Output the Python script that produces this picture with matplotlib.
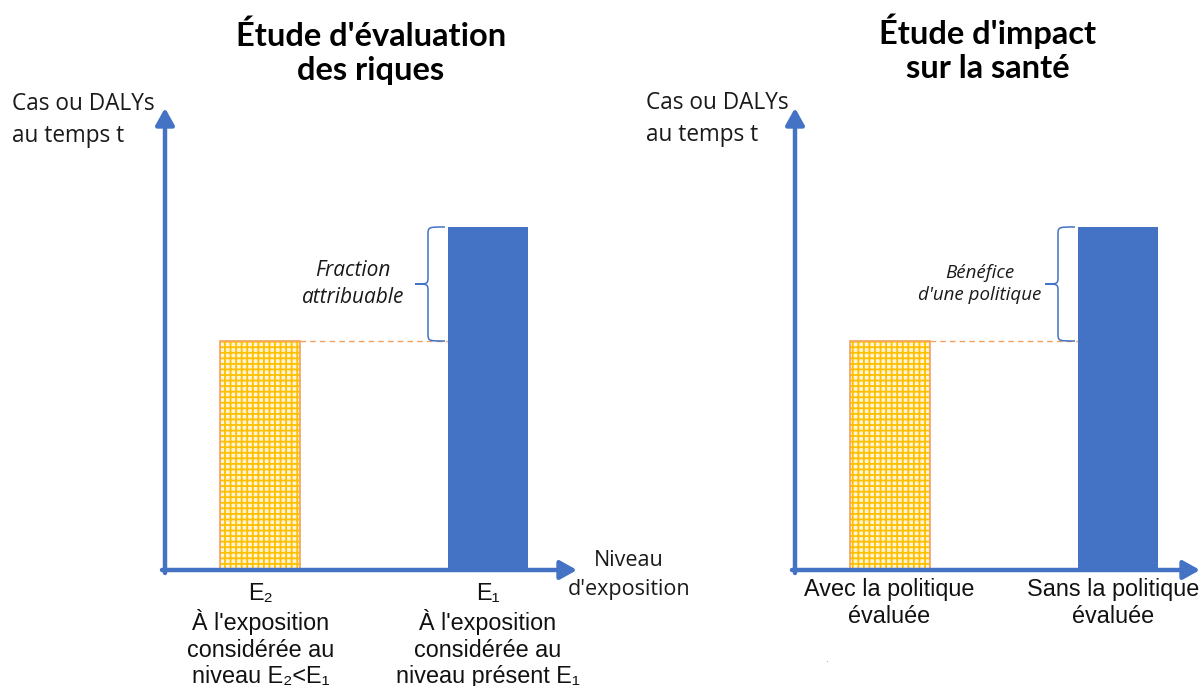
import matplotlib
matplotlib.use('Agg')
import matplotlib.pyplot as plt
from matplotlib.path import Path
from matplotlib.patches import PathPatch

# Data (arbitrary units)
bar_levels = [2.29, 3.43]          # orange (E2 / with policy), blue (E1 / without policy)
titles = ["Étude d'évaluation\ndes riques", "Étude d'impact\nsur la santé"]
brace_labels = ["Fraction\nattribuable", "Bénéfice\nd'une politique"]
left_ticks = ["E\u2082\nÀ l'exposition\nconsidérée au\nniveau E\u2082<E\u2081",
              "E\u2081\nÀ l'exposition\nconsidérée au\nniveau présent E\u2081"]
right_ticks = ["Avec la politique\névaluée", "Sans la politique\névaluée"]
y_label = "Cas ou DALYs\nau temps t"
x_label = "Niveau\nd'exposition"

BLUE = '#4472C4'
ORANGE = '#F4A15E'
YELLOW = '#FFC000'
W, H = 1201, 686

plt.rcParams['hatch.linewidth'] = 1.3
fig = plt.figure(figsize=(W / 100, H / 100), dpi=100)


def px(x, y):
    return x / W, 1 - y / H


def panel(x0, xtip, brace_text, brace_size, brace_x):
    # axes: origin at pixel (x0, 570), 100 px per unit
    ax = fig.add_axes([x0 / W, (H - 570) / H, (xtip - x0) / W, 460 / H])
    ax.set_xlim(0, (xtip - x0) / 100)
    ax.set_ylim(0, 4.6)
    ax.axis('off')
    pos = [0.95, 3.225]
    ax.bar(pos[0], bar_levels[0], width=0.8, color='#FFF4D6', hatch='+++',
           edgecolor=YELLOW, linewidth=0, zorder=2)
    ax.bar(pos[0], bar_levels[0], width=0.8, fill=False, edgecolor=ORANGE,
           linewidth=1.2, zorder=3)
    ax.bar(pos[1], bar_levels[1], width=0.8, color=BLUE, linewidth=0, zorder=2)
    # dashed connector
    ax.plot([pos[0] + 0.4, pos[1] - 0.4], [bar_levels[0]] * 2, color=ORANGE,
            lw=1, dashes=(4, 3), zorder=1)
    # brace
    yt, yb = bar_levels[1], bar_levels[0]
    ym = (yt + yb) / 2
    xs, xe, xtp, r = 2.63, 2.80, 2.50, 0.08
    verts = [(xe, yt), (xs, yt), (xs, yt), (xs, yt - r),
             (xs, ym + r),
             (xs, ym), (xs, ym), (xtp, ym),
             (xs, ym), (xs, ym), (xs, ym - r),
             (xs, yb + r),
             (xs, yb), (xs, yb), (xe, yb)]
    codes = [Path.MOVETO, Path.CURVE4, Path.CURVE4, Path.CURVE4,
             Path.LINETO,
             Path.CURVE4, Path.CURVE4, Path.CURVE4,
             Path.CURVE4, Path.CURVE4, Path.CURVE4,
             Path.LINETO,
             Path.CURVE4, Path.CURVE4, Path.CURVE4]
    ax.add_patch(PathPatch(Path(verts, codes), fill=False, edgecolor=BLUE, lw=1.1))
    ax.text(brace_x, ym, brace_text, ha='center', va='center', style='italic',
            fontsize=brace_size, family='Open Sans', linespacing=1.35, color='#1a1a1a')
    # axes arrows
    arrow = dict(arrowstyle='-|>,head_length=0.5,head_width=0.28', lw=3.2,
                 color=BLUE, shrinkA=0, shrinkB=0, mutation_scale=20)
    ax.annotate('', xy=(0, 4.62), xytext=(0, -0.03), arrowprops=arrow,
                annotation_clip=False)
    ax.annotate('', xy=((xtip - x0) / 100, 0), xytext=(-0.03, 0), arrowprops=arrow,
                annotation_clip=False)
    return ax


panel(165, 577, brace_labels[0], 15, 1.88)
panel(795, 1200, brace_labels[1], 13.5, 1.85)

tfont = dict(family='Lato', fontweight='bold', fontsize=23.5, ha='center', va='center',
             linespacing=1.2)
fig.text(*px(371, 53), titles[0], **tfont)
fig.text(*px(988, 48), titles[1], **tfont)

lfont = dict(family='Open Sans', fontsize=16.3, va='center', linespacing=1.45, color='#1a1a1a')
fig.text(*px(12, 120), y_label, ha='left', **lfont)
fig.text(*px(646, 119), y_label, ha='left', **lfont)
fig.text(*px(629, 575), x_label, ha='center', fontsize=15.5,
         **{k: v for k, v in lfont.items() if k != 'fontsize'})

bfont = dict(family=['Liberation Sans', 'DejaVu Sans'], fontsize=16.8, ha='center',
             va='top', linespacing=1.2, color='#111111')
fig.text(*px(261, 582), left_ticks[0], **bfont)
fig.text(*px(488, 582), left_ticks[1], **bfont)
fig.text(*px(889, 578), right_ticks[0], **bfont)
fig.text(*px(1113, 578), right_ticks[1], **bfont)
fig.text(*px(826, 659), '.', ha='center', va='center', fontsize=6, color='#666666')

fig.savefig('out.png', dpi=100)
